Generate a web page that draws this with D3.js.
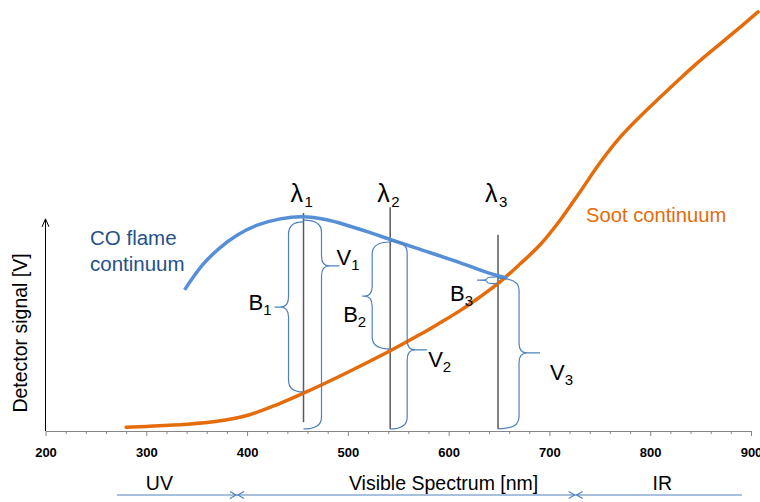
<!DOCTYPE html>
<html><head><meta charset="utf-8">
<script src="https://cdn.jsdelivr.net/npm/d3@7"></script>
<style>
body{margin:0;background:#fff}
svg{display:block}
text{font-family:"Liberation Sans",Arial,sans-serif}
</style>
</head><body>
<svg id="c" width="760" height="502"></svg>
<script>
// ---------- data ----------
const xTicks = [200, 300, 400, 500, 600, 700, 800, 900];
const xMinorStep = 20;

const sootNm     = [280, 300, 340, 370, 400, 430, 456, 500, 542, 571, 591, 611, 631, 651, 671, 691, 710, 730, 750, 770, 790, 810, 830, 850, 870, 890, 907];
const sootSignal = [0.9, 1.1, 1.6, 2.3, 3.7, 6.3, 9.0, 14.0, 19.1, 22.9, 25.7, 28.6, 31.9, 35.5, 39.8, 44.4, 50.0, 56.8, 63.8, 69.9, 74.9, 79.5, 84.0, 88.3, 92.3, 96.3, 99.8];

const coNm     = [338, 356, 373, 390, 410, 433, 455, 479, 499, 520, 542, 571, 611, 640, 658];
const coSignal = [33.6, 39.6, 43.6, 46.6, 49.0, 50.5, 51.0, 50.3, 49.0, 47.4, 45.6, 43.3, 40.1, 37.6, 36.4];

const lambdaSub    = ["1", "2", "3"];
const lambdaNm     = [456, 542, 649];
const lambdaTop    = [51.9, 53.3, 46.7];
const lambdaBottom = [2.1, 0.5, 0.5];

const braceNames  = ["B1", "V1", "B2", "V2", "B3", "V3"];
const braceAnchor = [456, 456, 542, 542, 649, 649];
const braceTop    = [49.8, 50.2, 45.0, 45.2, 36.7, 36.4];
const braceBottom = [9.3, 0.5, 19.5, 0.5, 35.1, 0.5];
const braceTip    = [29.5, 39.3, 32.1, 19.3, 35.9, 18.6];

const regionNames   = ["UV", "Visible Spectrum [nm]", "IR"];
const regionStart   = [271, 390, 726];
const regionEnd     = [390, 726, 891];
const regionLabelNm = [313, 595, 812];
const regionArrowStart = [false, true, true];
const regionArrowEnd   = [true, true, false];

// ---------- layout (pixels) ----------
const braceStroke = [-15, 18, -18, 17, -11, 21];   // stroke offset from anchor
const braceTipOff = [-29, 36, -28, 37, -21, 42];   // tip offset from anchor
const braceLabelDx = [-26, -3, -19, 1, -27, 10];
const braceLabelDy = [3, -1, 26, 17, 21, 27];

const svg = d3.select("#c");
const x = d3.scaleLinear().domain([200, 900]).range([45.5, 751]);
const y = d3.scaleLinear().domain([0, 100]).range([431, 11]);

const orange = "#E46C0A", blue = "#5590D6", braceCol = "#4F81BD";

// ---------- x axis ----------
const minor = d3.range(xTicks[0], xTicks[xTicks.length-1] + 1, xMinorStep).filter(v => !xTicks.includes(v));
svg.append("g").attr("transform", `translate(0,${y(0)})`)
  .call(d3.axisBottom(x).tickValues(minor).tickSize(3).tickSizeOuter(0).tickFormat(""))
  .call(g => { g.select(".domain").remove(); g.selectAll(".tick line").attr("stroke", "#868686"); });
const gx = svg.append("g").attr("transform", `translate(0,${y(0)})`)
  .call(d3.axisBottom(x).tickValues(xTicks).tickSize(5).tickSizeOuter(0).tickFormat(d3.format("d")));
gx.select(".domain").attr("stroke", "#868686");
gx.selectAll(".tick line").attr("stroke", "#868686");
gx.selectAll(".tick text").attr("y", 26).attr("dy", 0)
  .attr("font-family", "Liberation Sans, Arial, sans-serif")
  .attr("font-size", 13).attr("font-weight", "bold").attr("fill", "#000");

// ---------- y axis with arrow ----------
const yTopV = 50.5;
svg.append("line").attr("x1", x(200)).attr("x2", x(200)).attr("y1", y(0)).attr("y2", y(yTopV))
  .attr("stroke", "#000").attr("stroke-width", 1);
svg.append("path")
  .attr("d", `M${x(200)-3.5},${y(yTopV)+8} L${x(200)},${y(yTopV)} L${x(200)+3.5},${y(yTopV)+8}`)
  .attr("fill", "none").attr("stroke", "#000").attr("stroke-width", 1);
svg.append("text").attr("transform", `translate(27,${(y(0)+y(yTopV))/2+8}) rotate(-90)`)
  .attr("text-anchor", "middle").attr("font-size", 19.5).attr("fill", "#000")
  .text("Detector signal [V]");

// ---------- lambda lines ----------
lambdaNm.forEach((l, i) => {
  svg.append("line").attr("x1", x(l)).attr("x2", x(l))
    .attr("y1", y(lambdaTop[i])).attr("y2", y(lambdaBottom[i]))
    .attr("stroke", "#595959").attr("stroke-width", 1.5);
  svg.append("text").attr("x", x(l) - 0.5).attr("y", 202).attr("text-anchor", "end")
    .attr("font-size", 25).attr("fill", "#000").text("λ");
  svg.append("text").attr("x", x(l) + 1).attr("y", 207)
    .attr("font-size", 15).attr("fill", "#000").text(lambdaSub[i]);
});

// ---------- curves ----------
const line = d3.line().x(d => x(d[0])).y(d => y(d[1])).curve(d3.curveCatmullRom.alpha(0.5));
svg.append("path").datum(sootNm.map((n, i) => [n, sootSignal[i]]))
  .attr("d", line).attr("fill", "none").attr("stroke", orange).attr("stroke-width", 3.5).attr("stroke-linecap", "round");
svg.append("path").datum(coNm.map((n, i) => [n, coSignal[i]]))
  .attr("d", line).attr("fill", "none").attr("stroke", blue).attr("stroke-width", 3.5);

// ---------- braces ----------
function bracePath(ax, s, t, yT, yB, yTip) {
  const d = Math.sign(s);
  const xs = ax + s, xt = ax + t;
  const span = yB - yT;
  const ry = Math.min(12, span / 4);
  const rt = Math.min(10, span / 4);
  const rx2 = Math.min(Math.abs(t - s), 8);
  return `M${ax},${yT} Q${xs},${yT} ${xs},${yT + ry} L${xs},${yTip - rt} Q${xs},${yTip} ${xs + d*rx2},${yTip} L${xt},${yTip} ` +
         `M${xs + d*rx2},${yTip} Q${xs},${yTip} ${xs},${yTip + rt} L${xs},${yB - ry} Q${xs},${yB} ${ax},${yB}`;
}
braceNames.forEach((nm, i) => {
  const ax = x(braceAnchor[i]);
  svg.append("path")
    .attr("d", bracePath(ax, braceStroke[i], braceTipOff[i], y(braceTop[i]), y(braceBottom[i]), y(braceTip[i])))
    .attr("fill", "none").attr("stroke", braceCol).attr("stroke-width", 1.2);
  const tx = ax + braceTipOff[i] + braceLabelDx[i];
  const ty = y(braceTip[i]) + braceLabelDy[i];
  const t = svg.append("text").attr("x", tx).attr("y", ty).attr("font-size", 22).attr("fill", "#000");
  t.append("tspan").text(nm[0]);
  t.append("tspan").attr("font-size", 15).attr("dy", 5).text(nm[1]);
});

// ---------- curve labels ----------
svg.append("text").attr("x", 90).attr("y", 245).attr("font-size", 20.5).attr("fill", "#24518A").text("CO flame");
svg.append("text").attr("x", 90).attr("y", 271).attr("font-size", 20.5).attr("fill", "#24518A").text("continuum");
svg.append("text").attr("x", 586).attr("y", 222).attr("font-size", 20.2).attr("fill", orange).text("Soot continuum");

// ---------- spectral regions ----------
const ry0 = 495;
regionNames.forEach((r, i) => {
  const x0 = x(regionStart[i]), x1 = x(regionEnd[i]);
  svg.append("line").attr("x1", x0).attr("x2", x1).attr("y1", ry0).attr("y2", ry0)
    .attr("stroke", braceCol).attr("stroke-width", 1.2);
  if (regionArrowStart[i]) svg.append("path").attr("d", `M${x0+7},${ry0-3.5} L${x0+1},${ry0} L${x0+7},${ry0+3.5}`)
    .attr("fill", "none").attr("stroke", braceCol).attr("stroke-width", 1.2);
  if (regionArrowEnd[i]) svg.append("path").attr("d", `M${x1-7},${ry0-3.5} L${x1-1},${ry0} L${x1-7},${ry0+3.5}`)
    .attr("fill", "none").attr("stroke", braceCol).attr("stroke-width", 1.2);
  svg.append("text").attr("x", x(regionLabelNm[i])).attr("y", 490).attr("text-anchor", "middle")
    .attr("font-size", 19.5).attr("fill", "#000").text(r);
});
</script>
</body></html>
